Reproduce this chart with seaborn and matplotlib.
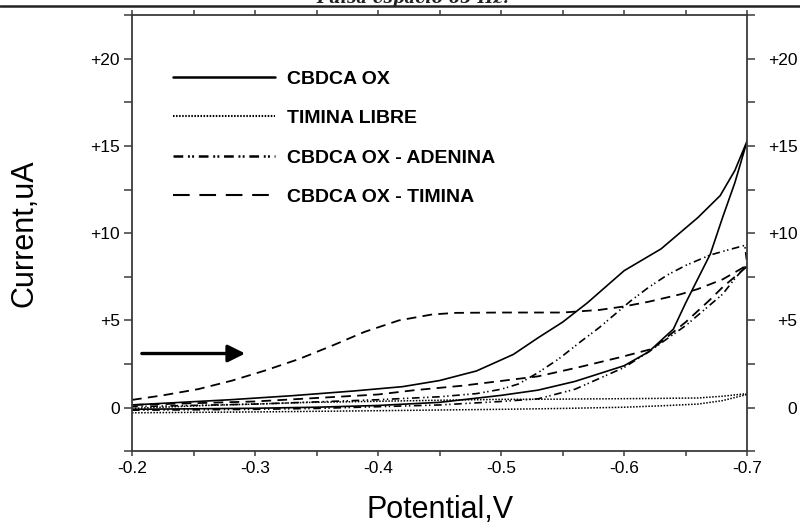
import pandas as pd
import seaborn as sns
import matplotlib.pyplot as plt
import matplotlib.transforms as mtransforms
from matplotlib.lines import Line2D
from matplotlib.ticker import MultipleLocator, FixedLocator

# CBDCA OX (solid) - forward branch then return branch
ox_v_fwd = [-0.20, -0.25, -0.30, -0.35, -0.40, -0.45, -0.50, -0.53, -0.56, -0.60, -0.62, -0.64, -0.65, -0.66, -0.67, -0.68, -0.69, -0.70]
ox_i_fwd = [-0.10, -0.07, -0.04, 0.02, 0.12, 0.30, 0.70, 1.00, 1.50, 2.40, 3.20, 4.50, 6.00, 7.40, 8.80, 10.90, 12.90, 15.30]
ox_v_rev = [-0.70, -0.69, -0.678, -0.66, -0.63, -0.60, -0.57, -0.55, -0.53, -0.51, -0.48, -0.45, -0.42, -0.38, -0.33, -0.28, -0.24, -0.20]
ox_i_rev = [15.30, 13.60, 12.15, 10.90, 9.10, 7.85, 6.00, 4.90, 4.00, 3.05, 2.10, 1.55, 1.20, 0.95, 0.68, 0.45, 0.30, 0.15]

# TIMINA LIBRE (dotted)
tl_v_fwd = [-0.20, -0.30, -0.40, -0.50, -0.55, -0.60, -0.63, -0.66, -0.68, -0.70]
tl_i_fwd = [-0.30, -0.25, -0.18, -0.10, -0.05, 0.02, 0.10, 0.20, 0.40, 0.75]
tl_v_rev = [-0.70, -0.68, -0.66, -0.62, -0.58, -0.54, -0.50, -0.45, -0.40, -0.34, -0.30, -0.26, -0.20]
tl_i_rev = [0.80, 0.65, 0.55, 0.52, 0.50, 0.48, 0.47, 0.42, 0.36, 0.29, 0.20, 0.12, -0.05]

# CBDCA OX - ADENINA (dash dot dot)
ad_v_fwd = [-0.20, -0.25, -0.30, -0.35, -0.40, -0.45, -0.50, -0.53, -0.56, -0.60, -0.62, -0.635, -0.65, -0.67, -0.68, -0.69, -0.70]
ad_i_fwd = [-0.15, -0.13, -0.10, -0.05, 0.05, 0.15, 0.35, 0.50, 1.05, 2.30, 3.20, 3.95, 4.70, 5.90, 6.50, 7.40, 8.20]
ad_v_rev = [-0.70, -0.698, -0.685, -0.67, -0.65, -0.635, -0.62, -0.605, -0.58, -0.565, -0.547, -0.53, -0.514, -0.50, -0.48, -0.45, -0.40, -0.30, -0.20]
ad_i_rev = [8.20, 9.30, 9.05, 8.75, 8.15, 7.60, 6.90, 6.10, 4.60, 3.80, 2.80, 2.00, 1.35, 1.05, 0.80, 0.62, 0.45, 0.20, 0.05]

# CBDCA OX - TIMINA (dashed)
ti_v_fwd = [-0.20, -0.225, -0.254, -0.281, -0.308, -0.336, -0.363, -0.389, -0.417, -0.444, -0.463, -0.50, -0.55, -0.58, -0.60, -0.62, -0.646, -0.66, -0.68, -0.696, -0.70]
ti_i_fwd = [0.44, 0.70, 1.06, 1.54, 2.12, 2.79, 3.56, 4.34, 5.00, 5.34, 5.43, 5.45, 5.45, 5.60, 5.80, 6.07, 6.50, 6.80, 7.35, 8.00, 8.20]
ti_v_rev = [-0.70, -0.69, -0.68, -0.67, -0.65, -0.623, -0.597, -0.563, -0.53, -0.497, -0.468, -0.43, -0.40, -0.35, -0.30, -0.25, -0.20]
ti_i_rev = [8.10, 7.50, 6.90, 6.20, 4.90, 3.37, 2.89, 2.31, 1.79, 1.50, 1.25, 1.00, 0.75, 0.55, 0.35, 0.25, 0.15]

y_ticks = [0, 5, 10, 15, 20]
y_labels = ['0', '+5', '+10', '+15', '+20']
x_ticks = [-0.2, -0.3, -0.4, -0.5, -0.6, -0.7]
x_labels = ['-0.2', '-0.3', '-0.4', '-0.5', '-0.6', '-0.7']
legend_labels = ['CBDCA OX', 'TIMINA LIBRE', 'CBDCA OX - ADENINA', 'CBDCA OX - TIMINA']

sns.set_theme(style='ticks')
plt.rcParams['font.family'] = ['Liberation Sans', 'DejaVu Sans']
plt.rcParams['lines.scale_dashes'] = False
plt.rcParams['text.color'] = 'black'
plt.rcParams['axes.labelcolor'] = 'black'

fig = plt.figure(figsize=(8, 5.24), dpi=100)
ax = fig.add_axes([0.165, 0.139, 0.769, 0.832])

# line styles: solid, dotted, dash-dot-dot, dashed
curves = [
    (ox_v_fwd + ox_v_rev, ox_i_fwd + ox_i_rev, '-', 1.2),
    (tl_v_fwd + tl_v_rev, tl_i_fwd + tl_i_rev, (0, (1.1, 1.1)), 1.1),
    (ad_v_fwd + ad_v_rev, ad_i_fwd + ad_i_rev, (0, (5.5, 2.6, 1.0, 1.8, 1.0, 2.6)), 1.2),
    (ti_v_fwd + ti_v_rev, ti_i_fwd + ti_i_rev, (0, (7.0, 4.5)), 1.3),
]
for v, i, ls, lw in curves:
    df = pd.DataFrame({'V': v, 'I': i})
    sns.lineplot(data=df, x='V', y='I', sort=False, estimator=None,
                 color='black', linestyle=ls, linewidth=lw, ax=ax)

ax.set_xlim(-0.2, -0.7)
ax.set_ylim(-2.5, 22.5)

ax.xaxis.set_major_locator(FixedLocator(x_ticks))
ax.set_xticklabels(x_labels)
ax.xaxis.set_minor_locator(MultipleLocator(0.05))
ax.yaxis.set_major_locator(FixedLocator(y_ticks))
ax.set_yticklabels(y_labels)
ax.yaxis.set_minor_locator(MultipleLocator(2.5))

for sp in ax.spines.values():
    sp.set_visible(True)
    sp.set_color('#3a3a3a')
    sp.set_linewidth(1.3)

ax.tick_params(axis='x', which='both', direction='out', length=3.8, width=1.1,
               color='#3a3a3a', labelcolor='black', top=True, labeltop=False,
               labelsize=12.5, pad=3)
ax.tick_params(axis='y', which='both', direction='out', length=5.8, width=1.1,
               color='#3a3a3a', labelcolor='black', right=True, labelright=True,
               labelsize=12.5, pad=3)

ax.set_xlabel('Potential,V', fontsize=22)
ax.set_ylabel('Current,uA', fontsize=22)
ax.xaxis.set_label_coords(0.5, -0.1)
ax.yaxis.set_label_coords(-0.15, 0.5)

# scan direction arrow
ax.annotate('', xy=(-0.292, 3.1), xytext=(-0.208, 3.1),
            arrowprops=dict(arrowstyle='-|>', lw=2.4, color='black', mutation_scale=26,
                            shrinkA=0, shrinkB=0))

legend_handles = [
    Line2D([], [], color='black', lw=1.8, linestyle='-'),
    Line2D([], [], color='black', lw=1.5, linestyle=(0, (1.1, 1.1))),
    Line2D([], [], color='black', lw=1.8, linestyle=(0, (7.0, 3.4, 1.4, 1.6, 1.4, 3.4))),
    Line2D([], [], color='black', lw=1.5, linestyle=(0, (12.0, 7.0))),
]
ax.legend(legend_handles, legend_labels, loc='upper left', bbox_to_anchor=(0.0667, 0.874),
          frameon=False, handlelength=5.25, handletextpad=0.62, labelspacing=1.12,
          borderaxespad=0, borderpad=0, prop={'size': 14, 'weight': 'bold'})

# right tick labels are right aligned, ending near the figure edge
fig.canvas.draw()
shift = mtransforms.ScaledTranslation(38 / 100, 0, fig.dpi_scale_trans)
for t in ax.yaxis.get_major_ticks():
    t.label2.set_horizontalalignment('right')
    t.label2.set_transform(t.label2.get_transform() + shift)

# header rule and clipped page text from the source document
fig.add_artist(Line2D([0, 1], [1 - 5.7 / 524, 1 - 5.7 / 524], transform=fig.transFigure,
                      color='#222222', lw=1.8))
fig.text(0.516, 1 - 3.0 / 524, 'Pulsa espacio 65 Hz.', ha='center', va='baseline',
         fontsize=12, family='DejaVu Serif', style='italic', weight='bold', color='#222222')

fig.savefig('out.png', dpi=100)
